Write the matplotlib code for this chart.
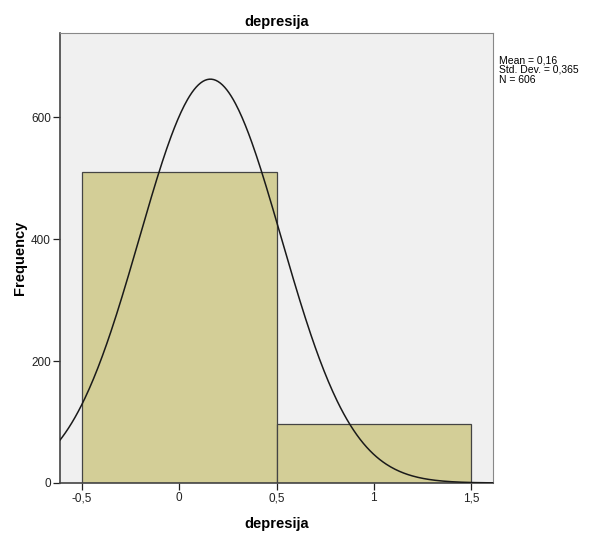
import matplotlib
matplotlib.use('Agg')
import matplotlib.pyplot as plt
import numpy as np

plt.rcParams['font.family'] = ['Liberation Sans', 'DejaVu Sans']

# histogram data (bin width 1)
bin_left = [-0.5, 0.5]
counts = [510, 96]
mean = 0.16
std = 0.365
n = 606
xticks = [-0.5, 0, 0.5, 1, 1.5]
xtick_labels = ['-0,5', '0', '0,5', '1', '1,5']
yticks = [0, 200, 400, 600]

fig = plt.figure(figsize=(5.9, 5.37), dpi=100)
ax = fig.add_axes([0.1017, 0.1006, 0.7339, 0.8379])
ax.set_facecolor('#f0f0f0')

ax.bar(bin_left, counts, width=1, align='edge', color='#d3ce97',
       edgecolor='#444444', linewidth=0.9, zorder=2)

xs = np.linspace(-0.62, 1.62, 400)
ys = n * 1.0 / (std * np.sqrt(2 * np.pi)) * np.exp(-0.5 * ((xs - mean) / std) ** 2)
ax.plot(xs, ys, color='#1a1a1a', linewidth=1.1, zorder=3)

ax.set_xlim(-0.613, 1.613)
ax.set_ylim(0, 738)
ax.set_xticks(xticks)
ax.set_xticklabels(xtick_labels)
ax.set_yticks(yticks)
ax.tick_params(direction='out', length=5, width=0.9, labelsize=8.5,
               colors='#222222', pad=1.5)

for s in ['left', 'bottom']:
    ax.spines[s].set_color('#444444')
    ax.spines[s].set_linewidth(1.2)
for s in ['top', 'right']:
    ax.spines[s].set_color('#888888')
    ax.spines[s].set_linewidth(0.8)

ax.set_title('depresija', fontsize=10.5, fontweight='bold', pad=5)
ax.set_xlabel('depresija', fontsize=10.5, fontweight='bold', labelpad=9)
ax.set_ylabel('Frequency', fontsize=10.5, fontweight='bold', labelpad=3)

fig.text(0.846, 0.897, 'Mean = 0,16\nStd. Dev. = 0,365\nN = 606',
         fontsize=7.5, va='top', ha='left', linespacing=0.95)

fig.savefig('out.png', dpi=100)
